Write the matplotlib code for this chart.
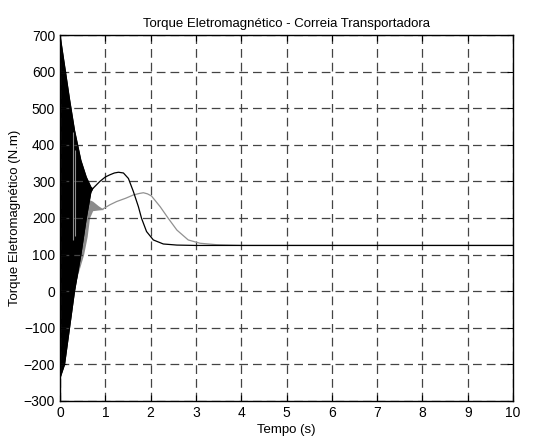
import matplotlib
matplotlib.use("Agg")
import matplotlib.pyplot as plt

plt.rcParams["font.family"] = ["Liberation Sans", "DejaVu Sans"]

# Black trace: oscillating start (upper/lower envelope) then smooth part
black_env_t = [0.0, 0.10, 0.21, 0.32, 0.46, 0.58, 0.68, 0.72]
black_upper_v = [700, 617, 525, 440, 358, 312, 285, 280]
black_lower_v = [-237, -200, -100, 0, 100, 200, 270, 280]
black_t = [0.72, 0.80, 0.88, 1.00, 1.10, 1.20, 1.29, 1.40, 1.51, 1.62, 1.73,
           1.80, 1.91, 2.06, 2.28, 2.58, 3.0, 10.0]
black_v = [280, 290, 300, 312, 318, 323, 325, 323, 308, 272, 231,
           199, 163, 140, 129, 126, 125, 125]

# Gray trace
gray_band_t = [0.28, 0.40, 0.52, 0.60, 0.65, 0.72, 0.85, 0.95]
gray_lower_v = [-5, 50, 100, 150, 200, 220, 222, 223]
gray_upper_v = [250, 250, 250, 250, 250, 246, 233, 225]
gray_t = [0.95, 1.10, 1.25, 1.45, 1.62, 1.75, 1.84, 1.93, 2.02, 2.21, 2.39,
          2.58, 2.83, 3.09, 3.46, 4.0, 10.0]
gray_v = [225, 236, 245, 254, 263, 267, 269, 266, 260, 231, 199,
          167, 140, 131, 127, 125, 125]
spike_t = [0.29, 0.33]
spike_lo = [140, 150]
spike_hi = [435, 385]

fig = plt.figure(figsize=(5.34, 4.37), dpi=100)
ax = fig.add_axes([0.1124, 0.0824, 0.8483, 0.8375])

ax.fill_between(gray_band_t, gray_lower_v, gray_upper_v, color="#8c8c8c", lw=0)
ax.plot(gray_t, gray_v, color="#919191", lw=0.9)
ax.fill_between(black_env_t, black_lower_v, black_upper_v, color="black", lw=0)
ax.plot(black_env_t, black_upper_v, color="black", lw=0.8)
ax.plot(black_env_t, black_lower_v, color="black", lw=0.8)
ax.plot(black_t, black_v, color="black", lw=0.9)
ax.vlines(spike_t, spike_lo, spike_hi, color="#8c8c8c", lw=0.8)

ax.set_xlim(0, 10)
ax.set_ylim(-300, 700)
ax.set_xticks(range(0, 11))
ax.set_yticks(range(-300, 701, 100))
ax.grid(True, color="#444444", linestyle=(0, (7, 4)), lw=0.9)
ax.tick_params(direction="in", top=True, right=True, length=4, labelsize=10)
for s in ax.spines.values():
    s.set_linewidth(1.0)

ax.set_title("Torque Eletromagnético - Correia Transportadora", fontsize=9.5, pad=6)
ax.set_xlabel("Tempo (s)", fontsize=9.5, labelpad=3)
ax.set_ylabel("Torque Eletromagnético (N.m)", fontsize=9.5, labelpad=2)

fig.savefig("out.png", dpi=100)
